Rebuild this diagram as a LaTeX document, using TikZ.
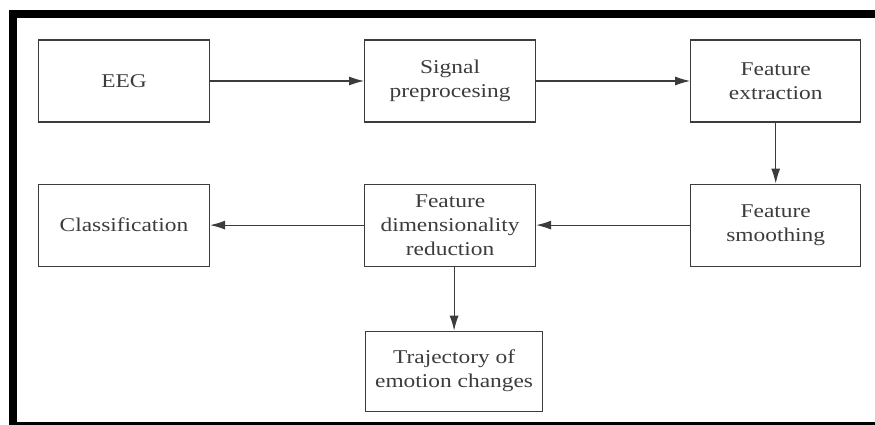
\documentclass[tikz,border=0pt]{standalone}
\usepackage{fontspec}
\setmainfont{Liberation Serif}[FakeStretch=1.2]
\usetikzlibrary{positioning,arrows.meta}
\definecolor{boxgray}{HTML}{3C3C3C}
\tikzstyle{block}=[draw=boxgray,line width=1.1pt,minimum width=171pt,minimum height=82pt,align=center,text=boxgray,font=\fontsize{19.5}{24}\selectfont]
\tikzstyle{flow}=[draw=boxgray,line width=1.1pt,-{Latex[length=15pt,width=9pt]}]

\begin{document}
\begin{tikzpicture}[x=1pt,y=-1pt,node distance=61pt and 154pt]
  \useasboundingbox (0,0) rectangle (875,425);
  % frame
  \fill (9,10) rectangle (875,18);
  \fill (9,10) rectangle (17,425);
  \fill (9,422) rectangle (875,425);
  % blocks
  \node[block] (eeg) at (124,81) {EEG};
  \node[block,right=of eeg] (prep) {Signal\\preprocesing};
  \node[block,right=of prep,minimum width=170pt] (extr) {Feature\\extraction};
  \node[block,below=of extr,minimum width=170pt] (smooth) {Feature\\smoothing};
  \node[block] (dimred) at (prep |- smooth) {Feature\\dimensionality\\reduction};
  \node[block] (classif) at (eeg |- smooth) {Classification};
  \node[block,below=64pt of dimred,xshift=4pt,minimum width=177pt,minimum height=80pt] (traj) {Trajectory of\\emotion changes};
  % arrows
  \draw[flow] (eeg) -- (prep);
  \draw[flow] (prep) -- (extr);
  \draw[flow] (extr) -- (smooth);
  \draw[flow] (smooth) -- (dimred);
  \draw[flow] (dimred) -- (classif);
  \draw[flow] (dimred.south -| traj.north) -- (traj.north);
\end{tikzpicture}
\end{document}
